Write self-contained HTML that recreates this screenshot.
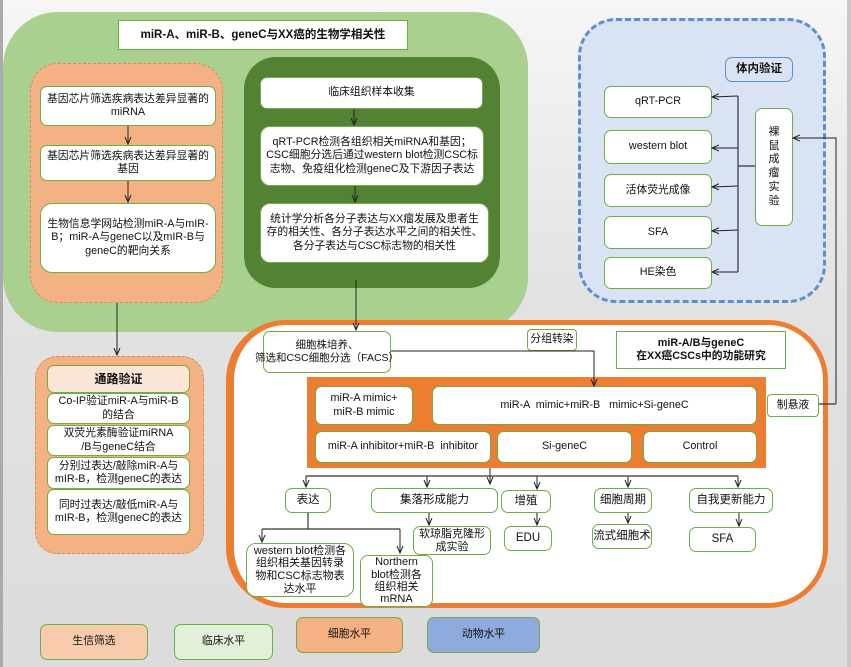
<!DOCTYPE html>
<html><head><meta charset="utf-8"><style>
body{margin:0;width:851px;height:667px;overflow:hidden;background:linear-gradient(#f6f6f6,#e2e2e2 45%,#dcdcdc);position:relative;font-family:"Liberation Sans","Noto Sans CJK SC",sans-serif;font-size:10.8px;color:#111}
div{position:absolute;box-sizing:border-box}
.b{background:#fff;border:1.2px solid #70ad47;border-radius:7px;display:flex;align-items:center;justify-content:center;text-align:center;line-height:1.25}
svg{position:absolute;left:0;top:0}
</style></head><body>
<div style="left:0;top:0;width:3px;height:667px;background:#aaa"></div>
<div style="left:847px;top:0;width:4px;height:667px;background:#c8c8c8"></div>
<div style="left:3px;top:12px;width:525px;height:320px;background:#a9d08e;border-radius:55px"></div>
<div class="b" style="left:118px;top:20px;width:290px;height:30px;border-radius:0;font-weight:bold;font-size:11.5px">miR-A、miR-B、geneC与XX癌的生物学相关性</div>
<div style="left:30px;top:63px;width:193px;height:240px;background:#f4b183;border:1px dashed #d09060;border-radius:28px"></div>
<div class="b" style="left:40px;top:86px;width:176px;height:40px">基因芯片筛选疾病表达差异显著的<br>miRNA</div>
<div class="b" style="left:40px;top:145px;width:176px;height:36px">基因芯片筛选疾病表达差异显著的<br>基因</div>
<div class="b" style="left:40px;top:203px;width:176px;height:70px;border-radius:12px">生物信息学网站检测miR-A与mIR-<br>B；miR-A与geneC以及mIR-B与<br>geneC的靶向关系</div>
<div style="left:244px;top:57px;width:256px;height:231px;background:#548235;border-radius:32px"></div>
<div class="b" style="left:260px;top:77px;width:223px;height:32px">临床组织样本收集</div>
<div class="b" style="left:260px;top:126px;width:224px;height:60px;border-radius:10px">qRT-PCR检测各组织相关miRNA和基因；<br>CSC细胞分选后通过western blot检测CSC标<br>志物、免疫组化检测geneC及下游因子表达</div>
<div class="b" style="left:260px;top:203px;width:229px;height:60px;border-radius:10px">统计学分析各分子表达与XX瘤发展及患者生<br>存的相关性、各分子表达水平之间的相关性、<br>各分子表达与CSC标志物的相关性</div>
<div style="left:578px;top:18px;width:248px;height:285px;background:#dae3f3;border:3px dashed #5b8fcf;border-radius:38px"></div>
<div class="b" style="left:725px;top:57px;width:68px;height:25px;border-color:#5b8fcf;background:#dae3f3;font-weight:bold;font-size:11.5px">体内验证</div>
<div class="b" style="left:604px;top:86px;width:108px;height:32px">qRT-PCR</div>
<div class="b" style="left:604px;top:130px;width:108px;height:34px">western blot</div>
<div class="b" style="left:604px;top:174px;width:108px;height:33px">活体荧光成像</div>
<div class="b" style="left:604px;top:216px;width:108px;height:33px">SFA</div>
<div class="b" style="left:604px;top:257px;width:108px;height:32px">HE染色</div>
<div class="b" style="left:755px;top:108px;width:38px;height:118px;font-size:11px;line-height:1.25">裸<br>鼠<br>成<br>瘤<br>实<br>验</div>
<div style="left:226px;top:320px;width:602px;height:288px;background:#fff;border:5px solid #ed7d31;border-left-width:8px;border-radius:60px"></div>
<div class="b" style="left:263px;top:331px;width:128px;height:42px;white-space:nowrap;font-size:10.5px">细胞株培养、<br>筛选和CSC细胞分选（FACS）</div>
<div class="b" style="left:527px;top:329px;width:50px;height:22px;border-radius:4px">分组转染</div>
<div class="b" style="left:616px;top:331px;width:170px;height:38px;border-radius:0;font-weight:bold">miR-A/B与geneC<br>在XX癌CSCs中的功能研究</div>
<div style="left:307px;top:377px;width:459px;height:91px;background:#ed7d31"></div>
<div class="b" style="left:315px;top:386px;width:98px;height:39px">miR-A mimic+<br>miR-B mimic</div>
<div class="b" style="left:432px;top:386px;width:325px;height:39px">miR-A &nbsp;mimic+miR-B &nbsp;&nbsp;mimic+Si-geneC</div>
<div class="b" style="left:315px;top:431px;width:176px;height:32px">miR-A inhibitor+miR-B &nbsp;inhibitor</div>
<div class="b" style="left:497px;top:431px;width:135px;height:32px">Si-geneC</div>
<div class="b" style="left:643px;top:431px;width:114px;height:32px">Control</div>
<div class="b" style="left:767px;top:394px;width:52px;height:23px;border-radius:4px">制悬液</div>
<div class="b" style="left:285px;top:488px;width:46px;height:25px;font-size:11.5px">表达</div>
<div class="b" style="left:371px;top:488px;width:127px;height:25px;font-size:11.5px">集落形成能力</div>
<div class="b" style="left:501px;top:490px;width:50px;height:23px;font-size:11.5px">增殖</div>
<div class="b" style="left:594px;top:488px;width:58px;height:25px;font-size:11.5px">细胞周期</div>
<div class="b" style="left:689px;top:488px;width:84px;height:25px;font-size:11.5px">自我更新能力</div>
<div class="b" style="left:413px;top:526px;width:78px;height:29px;font-size:11px;line-height:1.1">软琼脂克隆形<br>成实验</div>
<div class="b" style="left:504px;top:526px;width:48px;height:25px;font-size:11.5px">EDU</div>
<div class="b" style="left:592px;top:524px;width:60px;height:25px;font-size:11.5px">流式细胞术</div>
<div class="b" style="left:689px;top:527px;width:67px;height:25px;font-size:11.5px">SFA</div>
<div class="b" style="left:246px;top:543px;width:108px;height:54px;font-size:11px;line-height:1.15;border-radius:10px">western blot检测各<br>组织相关基因转录<br>物和CSC标志物表<br>达水平</div>
<div class="b" style="left:360px;top:555px;width:73px;height:52px;font-size:11px;line-height:1.12;border-radius:8px">Northern<br>blot检测各<br>组织相关<br>mRNA</div>
<div style="left:35px;top:356px;width:169px;height:198px;background:#f4b183;border:1px dashed #d09060;border-radius:22px"></div>
<div class="b" style="left:47px;top:365px;width:143px;height:28px;background:#fbe5d6;font-weight:bold;font-size:12px">通路验证</div>
<div class="b" style="left:47px;top:393px;width:143px;height:31px">Co-IP验证miR-A与miR-B<br>的结合</div>
<div class="b" style="left:47px;top:425px;width:143px;height:31px">双荧光素酶验证miRNA<br>/B与geneC结合</div>
<div class="b" style="left:47px;top:457px;width:143px;height:32px">分别过表达/敲除miR-A与<br>mIR-B，检测geneC的表达</div>
<div class="b" style="left:47px;top:489px;width:143px;height:46px">同时过表达/敲低miR-A与<br>mIR-B，检测geneC的表达</div>
<div class="b" style="left:40px;top:624px;width:108px;height:36px;background:#f8cbad">生信筛选</div>
<div class="b" style="left:174px;top:624px;width:99px;height:36px;background:#e2f0d9">临床水平</div>
<div class="b" style="left:296px;top:617px;width:107px;height:36px;background:#f4b183">细胞水平</div>
<div class="b" style="left:427px;top:617px;width:113px;height:36px;background:#8faadc">动物水平</div>
<svg width="851" height="667">
<defs><marker id="a" markerWidth="8" markerHeight="8" refX="7" refY="4" orient="auto" markerUnits="userSpaceOnUse"><path d="M0,1 L7,4 L0,7" fill="none" stroke="#222" stroke-width="1"/></marker></defs>
<g stroke="#222" stroke-width="1" fill="none" marker-end="url(#a)">
<line x1="128" y1="126" x2="128" y2="144"/>
<line x1="128" y1="181" x2="128" y2="202"/>
<line x1="354" y1="109" x2="354" y2="125"/>
<line x1="355" y1="186" x2="355" y2="202"/>
<line x1="356" y1="280" x2="356" y2="330"/>
<line x1="117" y1="303" x2="117" y2="355"/>
<polyline points="391,351 594,351 594,386"/>
<polyline points="836,404 836,138 793,138"/>
<line x1="738" y1="96" x2="712" y2="97"/>
<line x1="738" y1="148" x2="712" y2="148"/>
<line x1="738" y1="186" x2="712" y2="187"/>
<line x1="738" y1="230" x2="712" y2="231"/>
<line x1="738" y1="272" x2="712" y2="272"/>
<line x1="490" y1="468" x2="490" y2="484"/>
<line x1="306" y1="476" x2="306" y2="487"/>
<line x1="427" y1="476" x2="427" y2="487"/>
<line x1="537" y1="476" x2="537" y2="489"/>
<line x1="628" y1="476" x2="628" y2="487"/>
<line x1="738" y1="476" x2="738" y2="487"/>
<line x1="429" y1="513" x2="429" y2="525"/>
<line x1="537" y1="513" x2="537" y2="525"/>
<line x1="628" y1="513" x2="628" y2="523"/>
<line x1="739" y1="513" x2="739" y2="526"/>
<line x1="262" y1="529" x2="262" y2="542"/>
<line x1="400" y1="529" x2="400" y2="553"/>
</g>
<g stroke="#333" stroke-width="1.2" fill="none">
<polyline points="738,96 738,272"/>
<line x1="755" y1="166" x2="738" y2="166"/>
<line x1="819" y1="404" x2="836" y2="404"/>
<line x1="306" y1="476" x2="738" y2="476"/>
<line x1="308" y1="513" x2="308" y2="529"/>
<line x1="262" y1="529" x2="400" y2="529"/>
</g>
</svg>
</body></html>
